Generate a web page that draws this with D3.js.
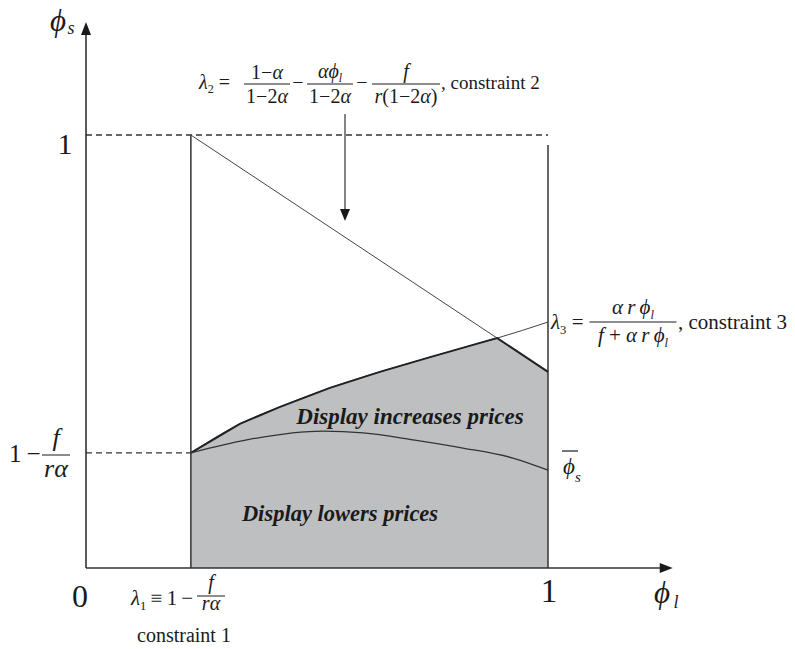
<!DOCTYPE html>
<meta charset="utf-8">
<script src="https://d3js.org/d3.v7.min.js"></script>
<style>
  body { margin: 0; background: #fff; }
  text { font-family: "Liberation Serif", "Times New Roman", serif; fill: #1a1a1a; }
</style>
<div id="chart"></div>
<script>
// values (phi_l on x, phi_s on y, both 0..1)
var lambda1 = 0.227;          // constraint 1 on the x axis
var lowerLevel = 0.266;       // 1 - f/(r alpha) on the y axis
var rightBarTop = 0.977;
var lambda2Pts = [[0.227, 1.0], [1.0, 0.453]];
var lambda3Pts = [[0.227, 0.266], [0.333, 0.333], [0.420, 0.372], [0.528, 0.416],
                  [0.636, 0.453], [0.745, 0.487], [0.853, 0.520], [0.890, 0.531], [1.0, 0.568]];
var phiBarPts = [[0.227, 0.266], [0.348, 0.296], [0.513, 0.316], [0.600, 0.312],
                 [0.708, 0.296], [0.816, 0.277], [0.924, 0.254], [1.0, 0.226]];
var kinkX = 0.890;            // where constraint 2 cuts constraint 3
var axisEnds = {x: 1.27, y: 1.261};

var W = 795, H = 649;
var svg = d3.select("#chart").append("svg").attr("width", W).attr("height", H);

var x = d3.scaleLinear().domain([0, 1]).range([86, 548]);
var y = d3.scaleLinear().domain([0, 1]).range([568, 135]);

var line = d3.line().x(function(d) { return x(d[0]); }).y(function(d) { return y(d[1]); });
var smooth = d3.line().x(function(d) { return x(d[0]); }).y(function(d) { return y(d[1]); })
    .curve(d3.curveMonotoneX);

// shaded region under min(lambda2, lambda3) between lambda1 and 1
var upper = lambda3Pts.filter(function(p) { return p[0] <= kinkX; }).concat([lambda2Pts[1]]);
var region = [[lambda1, 0]].concat(upper).concat([[1, 0]]);
svg.append("path").attr("d", line(region) + "Z").attr("fill", "#bebfc1");

// dashed guides
svg.append("line").attr("x1", x(0)).attr("x2", x(1)).attr("y1", y(1)).attr("y2", y(1))
  .attr("stroke", "#333").attr("stroke-width", 1.3).attr("stroke-dasharray", "6,4");
svg.append("line").attr("x1", x(0)).attr("x2", x(lambda1)).attr("y1", y(lowerLevel)).attr("y2", y(lowerLevel))
  .attr("stroke", "#333").attr("stroke-width", 1.3).attr("stroke-dasharray", "6,4");

// vertical bounds
svg.append("line").attr("x1", x(lambda1)).attr("x2", x(lambda1)).attr("y1", y(0)).attr("y2", y(1))
  .attr("stroke", "#333").attr("stroke-width", 1.5);
svg.append("line").attr("x1", x(1)).attr("x2", x(1)).attr("y1", y(0)).attr("y2", y(rightBarTop))
  .attr("stroke", "#333").attr("stroke-width", 1.5);

// curves
svg.append("path").attr("d", line(lambda2Pts)).attr("fill", "none").attr("stroke", "#444").attr("stroke-width", 1);
svg.append("path").attr("d", smooth(lambda3Pts)).attr("fill", "none").attr("stroke", "#444").attr("stroke-width", 1);
svg.append("path").attr("d", line(upper)).attr("fill", "none").attr("stroke", "#222").attr("stroke-width", 2);
svg.append("path").attr("d", smooth(phiBarPts)).attr("fill", "none").attr("stroke", "#333").attr("stroke-width", 1.3);

// axes with arrow heads
svg.append("line").attr("x1", x(0)).attr("x2", x(0)).attr("y1", y(0)).attr("y2", y(axisEnds.y) + 8)
  .attr("stroke", "#333").attr("stroke-width", 1.6);
svg.append("line").attr("x1", x(0)).attr("x2", x(axisEnds.x) - 8).attr("y1", y(0)).attr("y2", y(0))
  .attr("stroke", "#333").attr("stroke-width", 1.6);
function arrow(tx, ty, dir) {
  var p = dir == "up" ? [[tx, ty], [tx - 5, ty + 13], [tx + 5, ty + 13]]
        : dir == "down" ? [[tx, ty], [tx - 5, ty - 12], [tx + 5, ty - 12]]
        : [[tx, ty], [tx - 13, ty - 5], [tx - 13, ty + 5]];
  svg.append("path").attr("d", "M" + p.join("L") + "Z").attr("fill", "#1a1a1a");
}
arrow(x(0), y(axisEnds.y), "up");
arrow(x(axisEnds.x), y(0), "right");

// arrow from constraint 2 label
svg.append("line").attr("x1", 345).attr("x2", 345).attr("y1", 114).attr("y2", 210)
  .attr("stroke", "#333").attr("stroke-width", 1.2);
arrow(345, 221, "down");

// rich text helper: parts {t, i (italic), sub}
function rich(px, py, parts, size, anchor) {
  var t = svg.append("text").attr("x", px).attr("y", py).attr("font-size", size)
    .attr("text-anchor", anchor || "start");
  var shift = 0;
  parts.forEach(function(p) {
    var s = t.append("tspan").text(p.t);
    var want = p.sub ? size * 0.22 : 0;
    if (want != shift) { s.attr("dy", want - shift); shift = want; }
    if (p.i) s.attr("font-style", "italic");
    if (p.sub) s.attr("font-size", size * 0.6);
  });
  return t;
}
function frac(cx, barY, w, num, den, size, numUp, denDown) {
  svg.append("line").attr("x1", cx - w / 2).attr("x2", cx + w / 2).attr("y1", barY).attr("y2", barY)
    .attr("stroke", "#1a1a1a").attr("stroke-width", 1);
  rich(cx, barY - numUp, num, size, "middle");
  rich(cx, barY + denDown, den, size, "middle");
}

// constraint 2 label
var s2 = 20;
rich(199, 89, [{t: "λ", i: 1}, {t: "2", sub: 1}, {t: " ="}], s2);
frac(267, 84, 46, [{t: "1−"}, {t: "α", i: 1}], [{t: "1−2"}, {t: "α", i: 1}], s2, 5, 19);
rich(298, 89, [{t: "−"}], s2, "middle");
frac(330, 84, 46, [{t: "αϕ", i: 1}, {t: "l", i: 1, sub: 1}], [{t: "1−2"}, {t: "α", i: 1}], s2, 6, 19);
rich(362, 89, [{t: "−"}], s2, "middle");
frac(406, 84, 68, [{t: "f", i: 1}], [{t: "r", i: 1}, {t: "(1−2"}, {t: "α", i: 1}, {t: ")"}], s2, 6, 19);
rich(441, 89, [{t: ", constraint 2"}], 19);

// constraint 3 label
rich(551, 329, [{t: "λ", i: 1}, {t: "3", sub: 1}, {t: " ="}], 21);
frac(633, 322, 87, [{t: "α\u2009r\u2009ϕ", i: 1}, {t: "l", i: 1, sub: 1}],
     [{t: "f", i: 1}, {t: " + "}, {t: "α\u2009r\u2009ϕ", i: 1}, {t: "l", i: 1, sub: 1}], 21, 8, 20);
rich(678, 329, [{t: ", constraint 3"}], 21);

// y axis labels
rich(58, 31, [{t: "ϕ", i: 1}], 31, "middle");
rich(71, 34, [{t: "s", i: 1}], 18, "middle");
rich(65, 154, [{t: "1"}], 30, "middle");
rich(9, 462, [{t: "1\u2009−"}], 25);
frac(56, 455, 28, [{t: "f", i: 1}], [{t: "rα", i: 1}], 26, 9, 22);

// x axis labels
rich(80, 607, [{t: "0"}], 32, "middle");
rich(549, 602, [{t: "1"}], 33, "middle");
rich(662, 603, [{t: "ϕ", i: 1}], 31, "middle");
rich(676, 608, [{t: "l", i: 1}], 18, "middle");
rich(131, 605, [{t: "λ", i: 1}, {t: "1", sub: 1}, {t: "\u2009≡\u20091\u2009−"}], 21);
frac(211, 596, 28, [{t: "f", i: 1}], [{t: "rα", i: 1}], 20, 7, 14);
rich(184, 642, [{t: "constraint 1"}], 20, "middle");

// phi-bar label
svg.append("line").attr("x1", 562).attr("x2", 578).attr("y1", 451).attr("y2", 451)
  .attr("stroke", "#1a1a1a").attr("stroke-width", 1.2);
rich(569, 474, [{t: "ϕ", i: 1}], 23, "middle");
rich(578, 482, [{t: "s", i: 1}], 15, "middle");

// region captions
svg.append("text").attr("x", 410).attr("y", 424).attr("text-anchor", "middle")
  .attr("font-size", 23).attr("font-weight", "bold").attr("font-style", "italic")
  .text("Display increases prices");
svg.append("text").attr("x", 340).attr("y", 521).attr("text-anchor", "middle")
  .attr("font-size", 22.5).attr("font-weight", "bold").attr("font-style", "italic")
  .text("Display lowers prices");
</script>
